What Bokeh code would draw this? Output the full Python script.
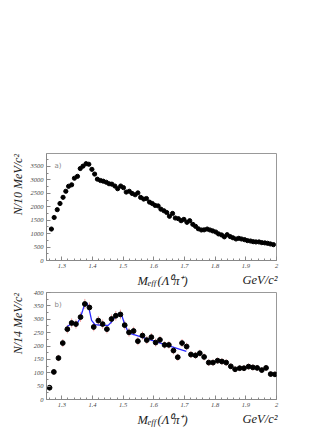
import math
from bokeh.plotting import figure
from bokeh.layouts import column, row
from bokeh.models import Label, FixedTicker, Range1d
from bokeh.embed import file_html
from bokeh.resources import INLINE

# ---------------- data ----------------
# panel a) : N / 10 MeV/c^2
mass_a = [1.266, 1.275, 1.285, 1.294, 1.304, 1.313, 1.322, 1.332, 1.341, 1.351,
          1.360, 1.369, 1.379, 1.388, 1.398, 1.407, 1.416, 1.426, 1.435, 1.445,
          1.454, 1.463, 1.473, 1.482, 1.492, 1.501, 1.510, 1.520, 1.529, 1.539,
          1.548, 1.557, 1.567, 1.576, 1.586, 1.595, 1.604, 1.614, 1.623, 1.633,
          1.642, 1.651, 1.661, 1.670, 1.680, 1.689, 1.698, 1.708, 1.717, 1.727,
          1.736, 1.745, 1.755, 1.764, 1.774, 1.783, 1.792, 1.802, 1.811, 1.821,
          1.830, 1.839, 1.849, 1.858, 1.868, 1.877, 1.886, 1.896, 1.905, 1.915,
          1.924, 1.933, 1.943, 1.952, 1.962, 1.971, 1.980, 1.990]
counts_a = [1170, 1600, 1890, 2120, 2350, 2575, 2760, 2815, 3060, 3130,
            3420, 3510, 3600, 3580, 3390, 3215, 3025, 2975, 2950, 2910,
            2855, 2840, 2770, 2670, 2770, 2710, 2545, 2575, 2495, 2445,
            2515, 2345, 2285, 2305, 2170, 2120, 2050, 2030, 1910, 1850,
            1785, 1645, 1750, 1580, 1555, 1480, 1530, 1420, 1480, 1345,
            1270, 1180, 1135, 1140, 1170, 1135, 1100, 1060, 990, 950,
            880, 960, 890, 845, 800, 825, 800, 775, 740, 725,
            700, 690, 690, 665, 655, 640, 615, 590]

# panel b) : N / 14 MeV/c^2
mass_b = [1.260, 1.274, 1.289, 1.303, 1.318, 1.332, 1.346, 1.361, 1.375, 1.390,
          1.404, 1.419, 1.433, 1.447, 1.462, 1.476, 1.491, 1.505, 1.519, 1.534,
          1.548, 1.563, 1.577, 1.592, 1.606, 1.620, 1.635, 1.649, 1.664, 1.678,
          1.692, 1.707, 1.721, 1.736, 1.750, 1.764, 1.779, 1.793, 1.808, 1.822,
          1.836, 1.851, 1.865, 1.880, 1.894, 1.909, 1.923, 1.937, 1.952, 1.966,
          1.981, 1.995]
counts_b = [44, 103, 155, 211, 263, 286, 282, 308, 357, 344,
            271, 295, 282, 263, 301, 313, 318, 278, 251, 256,
            218, 239, 222, 233, 213, 223, 204, 204, 183, 158,
            211, 198, 168, 165, 173, 159, 138, 138, 145, 142,
            138, 124, 113, 117, 117, 123, 120, 118, 110, 118,
            95, 94]
errors_b = [7, 10, 12, 15, 16, 17, 17, 18, 19, 19,
            16, 17, 17, 16, 17, 18, 18, 17, 16, 16,
            15, 15, 15, 15, 15, 15, 14, 14, 14, 13,
            15, 14, 13, 13, 13, 13, 12, 12, 12, 12,
            12, 11, 11, 11, 11, 11, 11, 11, 10, 11,
            10, 10]

# fit curve in panel b)
fit_mass = [1.317, 1.332, 1.349, 1.359, 1.368, 1.375, 1.382, 1.390, 1.397, 1.408,
            1.430, 1.451, 1.462, 1.473, 1.486, 1.494, 1.503, 1.514, 1.525, 1.706]
fit_vals = [273, 283, 283, 302, 333, 359, 361, 333, 296, 280,
            277, 277, 290, 308, 321, 320, 288, 258, 246, 180]

x_ticks = [1.3, 1.4, 1.5, 1.6, 1.7, 1.8, 1.9, 2.0]
x_tick_labels = {1.3: "1.3", 1.4: "1.4", 1.5: "1.5", 1.6: "1.6", 1.7: "1.7",
                 1.8: "1.8", 1.9: "1.9", 2.0: "2"}
ya_ticks = [0, 500, 1000, 1500, 2000, 2500, 3000, 3500]
yb_ticks = [0, 50, 100, 150, 200, 250, 300, 350, 400]

# ---------------- layout constants (page pixels) ----------------
X0, X1 = 1.25, 2.0
FRAME_L = 46            # frame left edge on the page
FRAME_W, FRAME_H = 230, 107
YLAB_W = 24             # strip that carries the rotated y titles
MAIN_LEFT = FRAME_L - YLAB_W
MAIN_RIGHT = 48
TOTAL_W = YLAB_W + MAIN_LEFT + FRAME_W + MAIN_RIGHT
SERIF = "Liberation Serif"
TEXT_COLOR = "#222222"


def style(p, yticks, yminor):
    p.outline_line_color = "#999999"
    p.outline_line_width = 1
    p.xgrid.visible = False
    p.ygrid.visible = False
    p.background_fill_color = "white"
    p.border_fill_color = "white"
    for ax in (p.xaxis[0], p.yaxis[0]):
        ax.axis_line_color = "#888888"
        ax.major_tick_line_color = "#888888"
        ax.minor_tick_line_color = "#888888"
        ax.major_tick_in = 4
        ax.major_tick_out = 0
        ax.minor_tick_in = 2
        ax.minor_tick_out = 0
        ax.major_label_text_font = SERIF
        ax.major_label_text_font_style = "italic"
        ax.major_label_text_font_size = "6.5px"
        ax.major_label_text_color = "#444444"
        ax.major_label_standoff = 3
    minor_x = [round(1.26 + 0.02 * i, 3) for i in range(38)]
    p.xaxis[0].ticker = FixedTicker(ticks=x_ticks, minor_ticks=minor_x)
    p.xaxis[0].major_label_overrides = x_tick_labels
    p.yaxis[0].ticker = FixedTicker(ticks=yticks, minor_ticks=yminor)


def text_strip(w, h, y_top=0, y_bot=None):
    """Blank figure; data units are page pixels (y grows downwards)."""
    if y_bot is None:
        y_bot = h
    f = figure(width=w, height=h, x_range=Range1d(0, w), y_range=Range1d(y_bot, y_top),
               min_border=0, x_axis_type=None, y_axis_type=None,
               output_backend="svg", toolbar_location=None)
    f.outline_line_color = None
    f.xgrid.visible = False
    f.ygrid.visible = False
    f.background_fill_color = "white"
    f.border_fill_color = "white"
    return f


def ylabel_strip(h, frame_top, top_py, text):
    # inside a row its frame is aligned with the neighbouring panel's frame
    f = text_strip(YLAB_W, h, frame_top, frame_top + FRAME_H)
    f.add_layout(Label(x=17, y=top_py, text=text, angle=math.pi / 2,
                       text_align="right", text_baseline="middle",
                       text_font=SERIF, text_font_style="italic",
                       text_font_size="12px", text_color=TEXT_COLOR))
    return f


def xlabel_strip(h, base):
    f = text_strip(TOTAL_W, h)
    common = dict(text_baseline="alphabetic", text_font=SERIF,
                  text_font_style="italic", text_color=TEXT_COLOR)
    f.add_layout(Label(x=137, y=base, text="M", text_align="left",
                       text_font_size="12.5px", **common))
    f.add_layout(Label(x=147, y=base + 2.5, text="eff", text_align="left",
                       text_font_size="8.5px", **common))
    f.add_layout(Label(x=157, y=base, text="(\u039b\u2070\u03c0\u207a)",
                       text_align="left", text_font_size="12.5px", **common))
    f.add_layout(Label(x=277, y=base - 1, text="GeV/c\u00b2", text_align="right",
                       text_font_size="12.5px", **common))
    return f


def main_panel(top_border, bottom_border, ymax, yticks, yminor):
    p = figure(width=MAIN_LEFT + FRAME_W + MAIN_RIGHT,
               height=top_border + FRAME_H + bottom_border,
               x_range=(X0, X1), y_range=(0, ymax),
               min_border_left=MAIN_LEFT, min_border_right=MAIN_RIGHT,
               min_border_top=top_border, min_border_bottom=bottom_border,
               output_backend="svg", toolbar_location=None)
    style(p, yticks, yminor)
    return p


def panel_letter(p, ymax, frame_top, letter, py):
    def dy(v):
        return (frame_top + FRAME_H - v) / FRAME_H * ymax
    p.add_layout(Label(x=X0 + (54 - FRAME_L) / FRAME_W * (X1 - X0), y=dy(py),
                       text=letter, text_align="left", text_baseline="middle",
                       text_font="DejaVu Sans", text_font_size="7px",
                       text_color="#888888"))


# ---------------- panel a ----------------
YA_MAX = 3980
A_TOP, A_BOT = 153, 12
pa = main_panel(A_TOP, A_BOT, YA_MAX, ya_ticks, list(range(250, 4000, 250)))
pa.scatter(mass_a, counts_a, size=4.2, color="black")
panel_letter(pa, YA_MAX, A_TOP, "a)", 165)
HA = A_TOP + FRAME_H + A_BOT                     # 272
ylab_a = ylabel_strip(HA, A_TOP, A_TOP + 0.5, "N/10 MeV/c\u00b2")
xlab_a = xlabel_strip(15, 8)                     # page y 272..287

# ---------------- panel b ----------------
YB_MAX = 400
B_TOP, B_BOT = 5, 10                             # page y 287..409, frame 292..399
pb = main_panel(B_TOP, B_BOT, YB_MAX, yb_ticks, list(range(25, 400, 25)))
pb.segment(x0=mass_b, y0=[c - e for c, e in zip(counts_b, errors_b)],
           x1=mass_b, y1=[c + e for c, e in zip(counts_b, errors_b)],
           line_color="#f0a0a0", line_width=1)
pb.line(fit_mass, fit_vals, line_color="#2a2aff", line_width=1.3)
pb.scatter(mass_b, counts_b, size=4.8, color="black")
panel_letter(pb, YB_MAX, B_TOP, "b)", 17)
HB = B_TOP + FRAME_H + B_BOT
ylab_b = ylabel_strip(HB, B_TOP, B_TOP + 0.5, "N/14 MeV/c\u00b2")
xlab_b = xlabel_strip(18, 10)                    # page y 409..427

layout = column(row(ylab_a, pa), xlab_a, row(ylab_b, pb), xlab_b)
open("out.html", "w").write(file_html(layout, INLINE))
